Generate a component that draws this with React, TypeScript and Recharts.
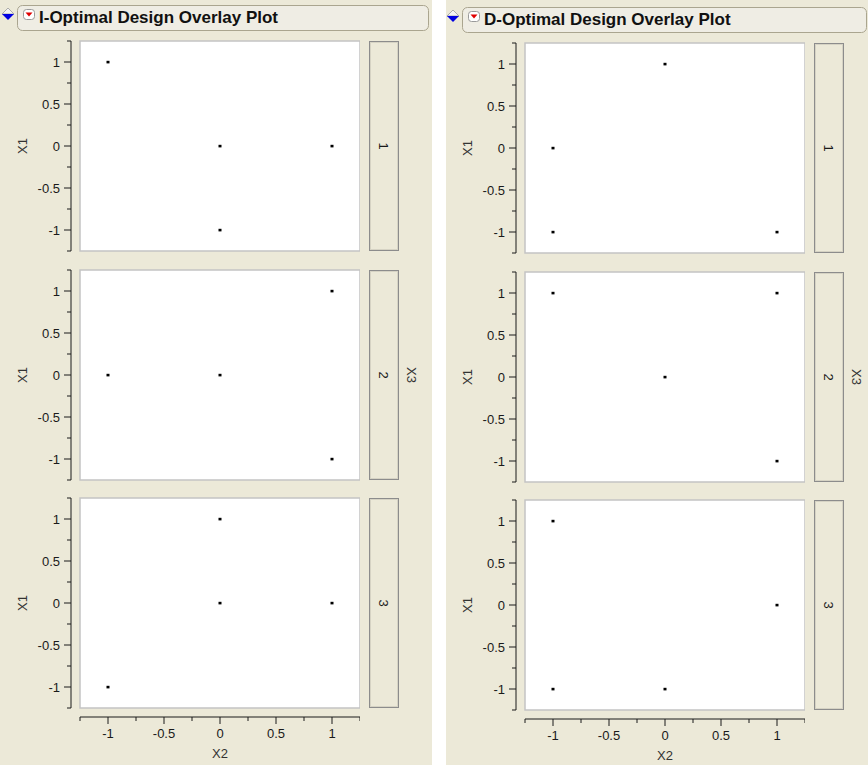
import React from 'react';
import { ScatterChart, Scatter, XAxis, YAxis, ReferenceArea } from 'recharts';

// ---------- data ----------
const x3Levels = ['1', '2', '3'];
const axisTicks = [-1.25, -1, -0.75, -0.5, -0.25, 0, 0.25, 0.5, 0.75, 1, 1.25];
const majorTicks = [-1, -0.5, 0, 0.5, 1];
const axisDomain: [number, number] = [-1.25, 1.25];

const iOptimalX3_1 = [
  { x2: -1, x1: 1 },
  { x2: 0, x1: 0 },
  { x2: 1, x1: 0 },
  { x2: 0, x1: -1 },
];
const iOptimalX3_2 = [
  { x2: 1, x1: 1 },
  { x2: -1, x1: 0 },
  { x2: 0, x1: 0 },
  { x2: 1, x1: -1 },
];
const iOptimalX3_3 = [
  { x2: 0, x1: 1 },
  { x2: 0, x1: 0 },
  { x2: 1, x1: 0 },
  { x2: -1, x1: -1 },
];
const dOptimalX3_1 = [
  { x2: 0, x1: 1 },
  { x2: -1, x1: 0 },
  { x2: -1, x1: -1 },
  { x2: 1, x1: -1 },
];
const dOptimalX3_2 = [
  { x2: -1, x1: 1 },
  { x2: 1, x1: 1 },
  { x2: 0, x1: 0 },
  { x2: 1, x1: -1 },
];
const dOptimalX3_3 = [
  { x2: -1, x1: 1 },
  { x2: 1, x1: 0 },
  { x2: -1, x1: -1 },
  { x2: 0, x1: -1 },
];

// ---------- layout / style ----------
const BG = '#ECE9D8';
const FONT = '"Liberation Sans", Arial, sans-serif';
const INK = '#1a1a1a';
const BOX_LEFT = 80;
const BOX_W = 280;
const BOX_H = 210;
const BOX_TOP0 = 41;
const PITCH = 228.5;
const AXIS_GAP = 9;
const Y_AXIS_W = BOX_LEFT - AXIS_GAP;
const STRIP_LEFT = 369;
const STRIP_W = 30;
const PAD = 6;

const fmt = (v: number) => String(v);

const renderYTick = (props: any) => {
  const { x, y, payload } = props;
  const v = payload.value;
  const major = majorTicks.includes(v);
  const len = major ? 7 : 4;
  return (
    <g>
      <line x1={x - len} y1={y} x2={x} y2={y} stroke={INK} strokeWidth={1} />
      {major && (
        <text x={x - 11} y={y} dy="0.36em" textAnchor="end" fontFamily={FONT} fontSize={13} fill={INK}>
          {fmt(v)}
        </text>
      )}
    </g>
  );
};

const renderXTick = (props: any) => {
  const { x, y, payload } = props;
  const v = payload.value;
  const major = majorTicks.includes(v);
  const len = major ? 7 : 4;
  return (
    <g>
      <line x1={x} y1={y} x2={x} y2={y + len} stroke={INK} strokeWidth={1} />
      {major && (
        <text x={x} y={y + 21} textAnchor="middle" fontFamily={FONT} fontSize={13} fill={INK}>
          {fmt(v)}
        </text>
      )}
    </g>
  );
};

const YTitle = (props: any) => {
  const vb = props.viewBox || { x: 0, y: 0, width: Y_AXIS_W, height: BOX_H };
  const cx = vb.x + 22;
  const cy = vb.y + vb.height / 2;
  return (
    <text
      x={cx}
      y={cy}
      transform={`rotate(-90, ${cx}, ${cy})`}
      textAnchor="middle"
      dy="0.36em"
      fontFamily={FONT}
      fontSize={13}
      fill="#333"
    >
      X1
    </text>
  );
};

const XTitle = (props: any) => {
  const vb = props.viewBox || { x: BOX_LEFT, y: 17, width: BOX_W, height: 48 };
  return (
    <text x={vb.x + vb.width / 2} y={vb.y + 41} textAnchor="middle" fontFamily={FONT} fontSize={13} fill="#333">
      X2
    </text>
  );
};

const renderPoint = (props: any) => {
  const { cx, cy } = props;
  return <rect x={cx - 1.5} y={cy - 1.2} width={3} height={2.6} fill="#000" />;
};

function Facet({ data, top }: { data: { x2: number; x1: number }[]; top: number }) {
  return (
    <div style={{ position: 'absolute', left: 0, top: top - PAD }}>
      <ScatterChart
        width={BOX_LEFT + BOX_W}
        height={BOX_H + PAD * 2}
        margin={{ top: PAD, right: 0, bottom: PAD, left: 0 }}
      >
        <XAxis
          type="number"
          dataKey="x2"
          domain={axisDomain}
          allowDataOverflow
          hide
          padding={{ left: AXIS_GAP, right: 0 }}
        />
        <YAxis
          type="number"
          dataKey="x1"
          domain={axisDomain}
          allowDataOverflow
          ticks={axisTicks}
          interval={0}
          width={Y_AXIS_W}
          tickLine={false}
          tickSize={0}
          tickMargin={0}
          axisLine={{ stroke: INK }}
          tick={renderYTick}
          label={{ content: YTitle }}
        />
        <ReferenceArea
          x1={-1.25}
          x2={1.25}
          y1={-1.25}
          y2={1.25}
          fill="#ffffff"
          fillOpacity={1}
          stroke="#c4c4c4"
          strokeWidth={1.5}
        />
        <Scatter data={data} fill="#000" shape={renderPoint} isAnimationActive={false} />
      </ScatterChart>
    </div>
  );
}

function Strip({ label, top }: { label: string; top: number }) {
  return (
    <svg
      width={STRIP_W}
      height={BOX_H}
      style={{ position: 'absolute', left: STRIP_LEFT, top }}
    >
      <rect x={0.5} y={0.5} width={STRIP_W - 1} height={BOX_H - 1} fill={BG} stroke="#8c8c8c" />
      <rect x={1.5} y={1.5} width={STRIP_W - 3} height={BOX_H - 3} fill="none" stroke="#d6d3c4" />
      <text
        x={STRIP_W / 2}
        y={BOX_H / 2}
        transform={`rotate(90, ${STRIP_W / 2}, ${BOX_H / 2})`}
        textAnchor="middle"
        dy="0.36em"
        fontFamily={FONT}
        fontSize={13}
        fill={INK}
      >
        {label}
      </text>
    </svg>
  );
}

function Panel({
  left,
  top,
  title,
  facets,
  barWidth,
}: {
  left: number;
  top: number;
  title: string;
  facets: { x2: number; x1: number }[][];
  barWidth: number;
}) {
  const lastBottom = BOX_TOP0 + PITCH * (facets.length - 1) + BOX_H;
  const midY = BOX_TOP0 + PITCH + BOX_H / 2;
  return (
    <div style={{ position: 'absolute', left, top, width: 440, height: 765 }}>
      <svg width={440} height={36} style={{ position: 'absolute', left: 0, top: 0 }}>
        {/* disclosure diamond */}
        <path d="M2 14 L8 8 L14 14 Z" fill="#f4f4f4" stroke="#9a9a9a" strokeWidth={0.8} />
        <path d="M2 14 L14 14 L8 20 Z" fill="#0000e0" />
        {/* title bar */}
        <rect x={17.5} y={5.5} width={barWidth} height={25} rx={5} fill="#EFEDE4" stroke="#aaa58f" />
        {/* red menu icon */}
        <rect x={23.5} y={9.5} width={11} height={10} rx={3} fill="#ffffff" stroke="#9a9a9a" />
        <path d="M25.5 12.5 L32.5 12.5 L29 16.5 Z" fill="#e00000" />
        <text x={39} y={23} fontFamily={FONT} fontWeight="bold" fontSize={17} fill="#111">
          {title}
        </text>
      </svg>
      {facets.map((d, i) => (
        <Facet key={'f' + i} data={d} top={BOX_TOP0 + PITCH * i} />
      ))}
      {x3Levels.map((lv, i) => (
        <Strip key={'s' + i} label={lv} top={BOX_TOP0 + PITCH * i} />
      ))}
      <svg width={20} height={40} style={{ position: 'absolute', left: 402, top: midY - 20 }}>
        <text
          x={10}
          y={20}
          transform="rotate(90, 10, 20)"
          textAnchor="middle"
          dy="0.36em"
          fontFamily={FONT}
          fontSize={13}
          fill="#333"
        >
          X3
        </text>
      </svg>
      <div style={{ position: 'absolute', left: 0, top: lastBottom - 8 }}>
        <ScatterChart width={BOX_LEFT + BOX_W} height={65} margin={{ top: 0, right: 0, bottom: 0, left: BOX_LEFT }}>
          <XAxis
            type="number"
            dataKey="x2"
            domain={axisDomain}
            allowDataOverflow
            ticks={axisTicks}
            interval={0}
            height={48}
            tickLine={false}
            tickSize={0}
            tickMargin={0}
            axisLine={{ stroke: INK }}
            tick={renderXTick}
            label={{ content: XTitle }}
          />
          <YAxis type="number" dataKey="x1" domain={axisDomain} allowDataOverflow hide />
        </ScatterChart>
      </div>
    </div>
  );
}

export default function App() {
  return (
    <div
      style={{
        position: 'absolute',
        left: 0,
        top: 0,
        width: 868,
        height: 765,
        overflow: 'hidden',
        background: BG,
      }}
    >
      <div style={{ position: 'absolute', left: 432, top: 0, width: 14, height: 765, background: '#ffffff' }} />
      <Panel
        left={0}
        top={0}
        title="I-Optimal Design Overlay Plot"
        facets={[iOptimalX3_1, iOptimalX3_2, iOptimalX3_3]}
        barWidth={411}
      />
      <Panel
        left={445}
        top={2}
        title="D-Optimal Design Overlay Plot"
        facets={[dOptimalX3_1, dOptimalX3_2, dOptimalX3_3]}
        barWidth={404}
      />
    </div>
  );
}
